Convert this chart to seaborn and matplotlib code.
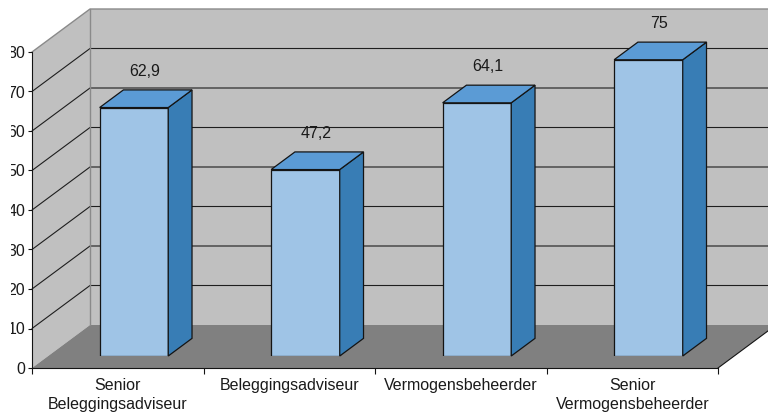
import matplotlib
matplotlib.use("Agg")
import matplotlib.pyplot as plt
from matplotlib.patches import Polygon
from matplotlib.transforms import Bbox, TransformedBbox
import seaborn as sns
import pandas as pd

# ---- data -------------------------------------------------------------
functies = ["Senior\nBeleggingsadviseur", "Beleggingsadviseur",
            "Vermogensbeheerder", "Senior\nVermogensbeheerder"]
waarden = [62.9, 47.2, 64.1, 75.0]
y_ticks = [0, 10, 20, 30, 40, 50, 60, 70, 80]

# ---- styling ----------------------------------------------------------
W, H, DPI = 768, 419, 100
WALL = "#c0c0c0"
FLOOR = "#808080"
WALL_EDGE = "#8a8a8a"
GRID = "#1e1e1e"
FRONT = "#9fc4e6"
TOP = "#5b9bd5"
SIDE = "#387db5"
OUTLINE = "#141414"
TEXT = "#1a1a1a"
FS = 11.5

sns.set_theme(style="white")
plt.rcParams["font.family"] = ["Liberation Sans", "DejaVu Sans"]

fig = plt.figure(figsize=(W / DPI, H / DPI), dpi=DPI)
fig.patch.set_facecolor("white")

# oblique projection, in pixels (y grows downward)
X0, Y0 = 32, 368            # front-left corner of the floor
FRONT_W = 686               # width of the front edge
YMAX = y_ticks[-1]
PX = 3.95                   # pixels per value unit
DX, DY = 58, -43            # offset from front plane to back wall
BAR_D0 = 12 / 43            # depth of the bars' front faces
BAR_D = 0.41                # depth of the bars


def proj(x, y, d):
    return (x + DX * d, y + DY * d)


# ---- walls and floor ---------------------------------------------------
bg = fig.add_axes([0, 0, 1, 1], zorder=0)
bg.set_xlim(0, W)
bg.set_ylim(H, 0)
bg.axis("off")

y_top = Y0 - YMAX * PX
side_wall = [(X0, y_top), proj(X0, y_top, 1), proj(X0, Y0, 1), (X0, Y0)]
back_top = proj(X0, y_top, 1)
back_bot = proj(X0, Y0, 1)
back_wall = [back_top, (W + 20, back_top[1]), (W + 20, back_bot[1]), back_bot]
floor = [(X0, Y0), back_bot, proj(X0 + FRONT_W, Y0, 1), (X0 + FRONT_W, Y0)]

bg.add_patch(Polygon(side_wall, closed=True, fc=WALL, ec="none"))
bg.add_patch(Polygon(back_wall, closed=True, fc=WALL, ec="none"))
bg.add_patch(Polygon(floor, closed=True, fc=FLOOR, ec="none"))

# gridlines: diagonal on the side wall, horizontal on the back wall
for v in y_ticks[1:-1]:
    yf = Y0 - v * PX
    xb, yb = proj(X0, yf, 1)
    bg.plot([X0, xb, W + 5], [yf, yb, yb], color=GRID, lw=0.8,
            solid_joinstyle="miter")

# outer edges of the walls
bg.plot([X0, back_top[0], W + 5], [y_top, back_top[1], back_top[1]],
        color=WALL_EDGE, lw=1.0)
bg.plot([back_top[0], back_bot[0]], [back_top[1], back_bot[1]],
        color=WALL_EDGE, lw=1.0)
fr = proj(X0 + FRONT_W, Y0, 1)
bg.plot([X0 + FRONT_W, fr[0]], [Y0, fr[1]], color=OUTLINE, lw=0.8)

# ---- front axes: value axis and category labels -----------------------
axf = fig.add_axes([X0 / W, (H - Y0) / H, FRONT_W / W, YMAX * PX / H],
                   zorder=1)
axf.patch.set_alpha(0)
axf.set_xlim(0, len(functies))
axf.set_ylim(0, YMAX)
for s in ("top", "right"):
    axf.spines[s].set_visible(False)
for s in ("left", "bottom"):
    axf.spines[s].set_color(OUTLINE)
    axf.spines[s].set_linewidth(0.8)
axf.set_yticks(y_ticks, labels=[str(t) for t in y_ticks])
axf.set_xticks(range(len(functies) + 1), labels=[""] * (len(functies) + 1))
axf.set_xticks([i + 0.5 for i in range(len(functies))], labels=functies,
               minor=True)
axf.tick_params(axis="y", left=True, direction="out", length=3, width=0.8,
                color=OUTLINE, pad=2, labelsize=FS, labelcolor=TEXT)
axf.tick_params(axis="x", which="major", bottom=True, direction="out",
                length=4, width=0.8, color=OUTLINE)
axf.tick_params(axis="x", which="minor", bottom=True, length=0, pad=7.5,
                labelsize=FS, labelcolor=TEXT)
for lab in axf.get_xticklabels(minor=True):
    lab.set_linespacing(1.3)

# ---- bars ---------------------------------------------------------------
bx0, by0 = proj(X0, Y0, BAR_D0)
ax = fig.add_axes([bx0 / W, (H - by0) / H, FRONT_W / W, YMAX * PX / H],
                  zorder=2)
df = pd.DataFrame({"functie": functies, "waarde": waarden})
sns.barplot(data=df, x="functie", y="waarde", ax=ax, color=FRONT,
            saturation=1, width=0.4, edgecolor=OUTLINE, linewidth=0.9)
ax.set_xlim(-0.5, len(functies) - 0.5)
ax.set_ylim(0, YMAX)
ax.axis("off")

to_bg = bg.transData.inverted()
ddx, ddy = DX * BAR_D, DY * BAR_D
for bar, v in zip(ax.patches, waarden):
    x0 = bar.get_x()
    x1 = x0 + bar.get_width()
    h = bar.get_height()
    (p00, p10, p01, p11) = to_bg.transform(
        ax.transData.transform([(x0, 0), (x1, 0), (x0, h), (x1, h)]))
    top = [tuple(p01), tuple(p11), (p11[0] + ddx, p11[1] + ddy),
           (p01[0] + ddx, p01[1] + ddy)]
    side = [tuple(p10), tuple(p11), (p11[0] + ddx, p11[1] + ddy),
            (p10[0] + ddx, p10[1] + ddy)]
    for poly, fc in ((side, SIDE), (top, TOP)):
        ax.add_patch(Polygon(poly, closed=True, fc=fc, ec=OUTLINE, lw=0.9,
                             joinstyle="miter", transform=bg.transData,
                             clip_on=False))
    label = f"{v:g}".replace(".", ",")
    ax.annotate(label, xy=(x0 + bar.get_width() / 2, h),
                xytext=(10.5 * 72 / DPI, 36 * 72 / DPI),
                textcoords="offset points", ha="center", va="center",
                fontsize=FS, color=TEXT, annotation_clip=False)

# value labels on the left run past the edge of the plot frame
fig.canvas.draw()
clip = TransformedBbox(Bbox.from_extents(11 / W, 0, 1, 1), fig.transFigure)
for lab in axf.get_yticklabels():
    lab.set_clip_on(True)
    lab.set_clip_box(clip)

fig.savefig("out.png", dpi=DPI, facecolor="white")
